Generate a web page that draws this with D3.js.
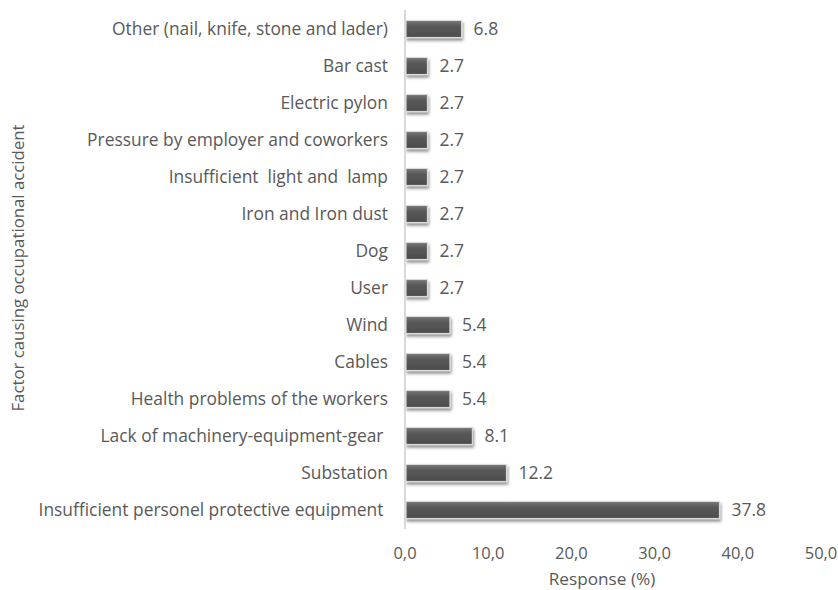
<!DOCTYPE html>
<html><head><meta charset="utf-8">
<script src="https://cdn.jsdelivr.net/npm/d3@7"></script>
<style>
body{margin:0;background:#fff;}
text{font-family:"Open Sans",sans-serif;fill:#595959;}
</style></head>
<body><svg id="c" width="838" height="590"></svg>
<script>
const categories = [
  "Other (nail, knife, stone and lader)",
  "Bar cast",
  "Electric pylon",
  "Pressure by employer and coworkers",
  "Insufficient  light and  lamp",
  "Iron and Iron dust",
  "Dog",
  "User",
  "Wind",
  "Cables",
  "Health problems of the workers",
  "Lack of machinery-equipment-gear ",
  "Substation",
  "Insufficient personel protective equipment "
];
const values = [6.8, 2.7, 2.7, 2.7, 2.7, 2.7, 2.7, 2.7, 5.4, 5.4, 5.4, 8.1, 12.2, 37.8];
const valueLabels = ["6.8","2.7","2.7","2.7","2.7","2.7","2.7","2.7","5.4","5.4","5.4","8.1","12.2","37.8"];
const xTicks = [0, 10, 20, 30, 40, 50];
const xTickLabels = ["0,0","10,0","20,0","30,0","40,0","50,0"];
const xTitle = "Response (%)";
const yTitle = "Factor causing occupational accident";

const svg = d3.select("#c");
const x = d3.scaleLinear().domain([0, 50]).range([405, 821]);
const y = d3.scaleBand().domain(categories).range([10.5, 528.5]).paddingInner(0.54).paddingOuter(0.27);

const defs = svg.append("defs");
const g = defs.append("linearGradient").attr("id","bg").attr("x1",0).attr("y1",0).attr("x2",0).attr("y2",1);
g.append("stop").attr("offset","0%").attr("stop-color","#767676");
g.append("stop").attr("offset","35%").attr("stop-color","#585858");
g.append("stop").attr("offset","100%").attr("stop-color","#4c4c4c");
const f = defs.append("filter").attr("id","sh").attr("x","-10%").attr("y","-30%").attr("width","130%").attr("height","190%");
f.append("feDropShadow").attr("dx",1).attr("dy",2.5).attr("stdDeviation",1.6).attr("flood-color","#000").attr("flood-opacity",0.45);

// bars
svg.append("g").selectAll("rect").data(categories).join("rect")
  .attr("x", x(0) + 1)
  .attr("y", d => y(d))
  .attr("width", (d,i) => x(values[i]) - x(0) - 1)
  .attr("height", y.bandwidth())
  .attr("fill", "url(#bg)")
  .attr("stroke", "#d9d9d9")
  .attr("stroke-width", 1.2)
  .attr("filter", "url(#sh)");

// y axis line
svg.append("line").attr("x1", x(0)).attr("x2", x(0)).attr("y1", 10).attr("y2", 529)
  .attr("stroke", "#d9d9d9").attr("stroke-width", 2);

// category labels
svg.append("g").selectAll("text").data(categories).join("text")
  .attr("x", 388)
  .attr("y", d => y(d) + y.bandwidth()/2)
  .attr("dy", "0.35em")
  .attr("text-anchor", "end")
  .attr("font-size", 17.4)
  .attr("xml:space", "preserve")
  .style("white-space", "pre")
  .text(d => d);

// value labels
svg.append("g").selectAll("text").data(categories).join("text")
  .attr("x", (d,i) => x(values[i]) + 12)
  .attr("y", d => y(d) + y.bandwidth()/2)
  .attr("dy", "0.35em")
  .attr("font-size", 17.5)
  .text((d,i) => valueLabels[i]);

// x tick labels
svg.append("g").selectAll("text").data(xTicks).join("text")
  .attr("x", d => x(d))
  .attr("y", 559)
  .attr("text-anchor", "middle")
  .attr("font-size", 16.5)
  .text((d,i) => xTickLabels[i]);

svg.append("text").attr("x", 602).attr("y", 585).attr("text-anchor","middle")
  .attr("font-size", 17.2).text(xTitle);

svg.append("text").attr("transform","translate(24,268) rotate(-90)")
  .attr("text-anchor","middle").attr("font-size", 16.8).text(yTitle);
</script></body></html>
